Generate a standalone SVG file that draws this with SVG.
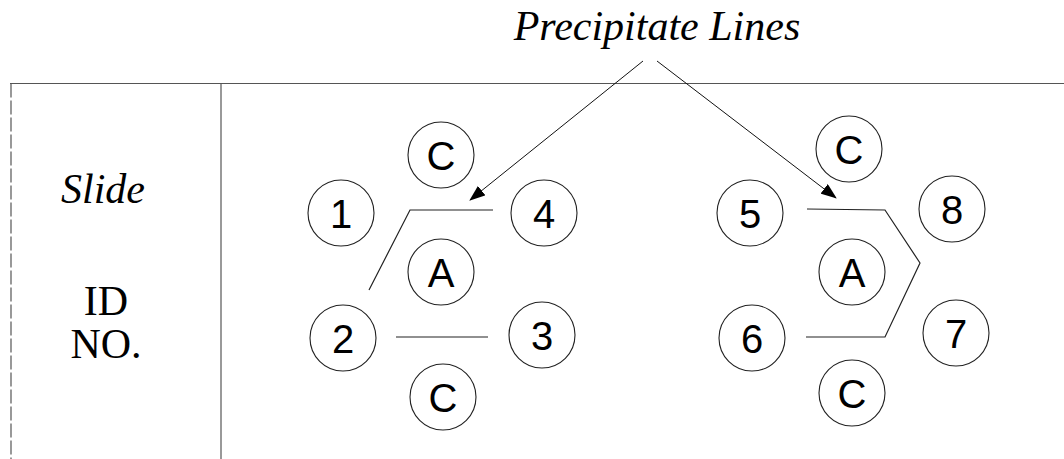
<svg xmlns="http://www.w3.org/2000/svg" width="1064" height="459" viewBox="0 0 1064 459">
<defs>
<marker id="ah" markerWidth="16" markerHeight="12" refX="15" refY="6" orient="auto" markerUnits="userSpaceOnUse">
<path d="M0,0 L16,6 L0,12 Z" fill="#000"/>
</marker>
<style>
.frame{stroke:#555;stroke-width:1.2;fill:none}
.pl{stroke:#222;stroke-width:1.2;fill:none}
.arr{stroke:#111;stroke-width:1;fill:none;marker-end:url(#ah)}
.node circle{fill:#fff;stroke:#222;stroke-width:1.1}
.node text{font-family:"Liberation Sans","DejaVu Sans",sans-serif;font-size:40px;text-anchor:middle;fill:#000}
.lab{font-family:"Liberation Serif","Times New Roman",serif;font-size:42px;text-anchor:middle;fill:#000}
</style>
</defs>
<rect width="1064" height="459" fill="#fff"/>
<g id="frame">
<line class="frame" x1="10" y1="83.5" x2="1064" y2="83.5"/>
<line class="frame" x1="11" y1="83.5" x2="11" y2="459" stroke-dasharray="14 3"/>
<line class="frame" x1="221" y1="83.5" x2="221" y2="459"/>
</g>
<g id="labels">
<text class="lab" x="657" y="40" font-style="italic" font-size="40">Precipitate Lines</text>
<text class="lab" x="103" y="203" font-style="italic">Slide</text>
<text class="lab" x="106" y="315">ID</text>
<text class="lab" x="106" y="358">NO.</text>
</g>
<g id="n-c1" class="node"><circle cx="441" cy="155" r="33"/><text x="441" y="170">C</text></g>
<g id="n-1" class="node"><circle cx="341" cy="213" r="33"/><text x="341" y="228">1</text></g>
<g id="n-4" class="node"><circle cx="544" cy="213" r="33"/><text x="544" y="228">4</text></g>
<g id="n-a1" class="node"><circle cx="441" cy="272" r="33"/><text x="441" y="287">A</text></g>
<g id="n-2" class="node"><circle cx="343" cy="338" r="33"/><text x="343" y="353">2</text></g>
<g id="n-3" class="node"><circle cx="542" cy="335" r="33"/><text x="542" y="350">3</text></g>
<g id="n-c2" class="node"><circle cx="443" cy="397" r="33"/><text x="443" y="412">C</text></g>
<g id="n-c3" class="node"><circle cx="849" cy="149" r="33"/><text x="849" y="164">C</text></g>
<g id="n-5" class="node"><circle cx="750" cy="213" r="33"/><text x="750" y="228">5</text></g>
<g id="n-8" class="node"><circle cx="952" cy="209" r="33"/><text x="952" y="224">8</text></g>
<g id="n-a2" class="node"><circle cx="852" cy="272" r="33"/><text x="852" y="287">A</text></g>
<g id="n-6" class="node"><circle cx="752" cy="338" r="33"/><text x="752" y="353">6</text></g>
<g id="n-7" class="node"><circle cx="956" cy="333" r="33"/><text x="956" y="348">7</text></g>
<g id="n-c4" class="node"><circle cx="852" cy="393" r="33"/><text x="852" y="408">C</text></g>
<g id="connectors">
<polyline class="pl" points="493,210 410,210 369,290"/>
<line class="pl" x1="396" y1="337" x2="488" y2="337"/>
<polyline class="pl" points="807,209 885,210 920,263 885,337 806,337"/>
<line class="arr" x1="643" y1="61" x2="470" y2="200"/>
<line class="arr" x1="657" y1="61" x2="836" y2="198"/>
</g>
</svg>
